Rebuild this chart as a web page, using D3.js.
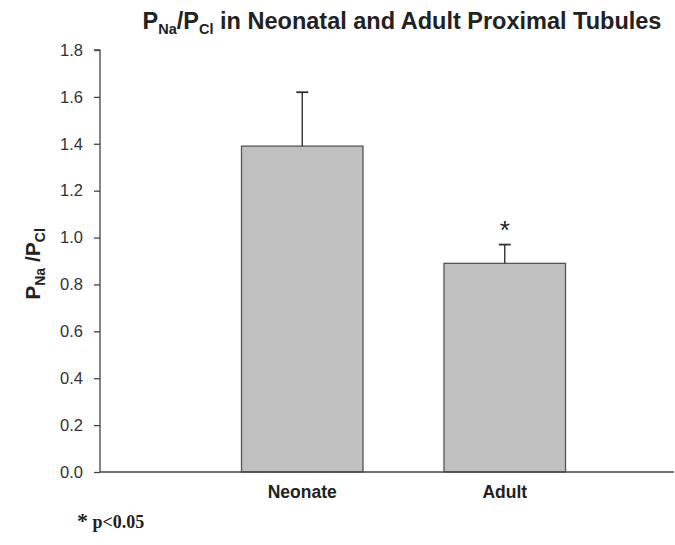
<!DOCTYPE html>
<html><head><meta charset="utf-8">
<script src="https://cdn.jsdelivr.net/npm/d3@7"></script>
<style>body{margin:0;background:#fff}svg{display:block}</style>
</head><body>
<svg id="c" width="675" height="545"></svg>
<script>
const categories = ["Neonate", "Adult"];
const means = [1.39, 0.89];
const errors = [0.23, 0.08];
const significant = [false, true];
const yTicks = [0, 0.2, 0.4, 0.6, 0.8, 1.0, 1.2, 1.4, 1.6, 1.8];

const svg = d3.select("#c");
const sans = "'Liberation Sans', Arial, sans-serif";
const y = d3.scaleLinear().domain([0, 1.8]).range([472, 50]);
const x = d3.scaleBand().domain(categories).range([201, 606]).paddingInner(0.4).paddingOuter(0.2);
const axisX0 = 100, axisX1 = 674;

// bars
svg.selectAll("rect.bar").data(categories).join("rect")
  .attr("x", d => x(d)).attr("width", x.bandwidth())
  .attr("y", (d, i) => y(means[i])).attr("height", (d, i) => y(0) - y(means[i]))
  .attr("fill", "#c0c0c0").attr("stroke", "#555").attr("stroke-width", 1.3);

// error bars
const eb = svg.selectAll("g.eb").data(categories).join("g");
eb.append("line")
  .attr("x1", d => x(d) + x.bandwidth() / 2).attr("x2", d => x(d) + x.bandwidth() / 2)
  .attr("y1", (d, i) => y(means[i])).attr("y2", (d, i) => y(means[i] + errors[i]))
  .attr("stroke", "#333").attr("stroke-width", 1.4);
eb.append("line")
  .attr("x1", d => x(d) + x.bandwidth() / 2 - 6).attr("x2", d => x(d) + x.bandwidth() / 2 + 6)
  .attr("y1", (d, i) => y(means[i] + errors[i])).attr("y2", (d, i) => y(means[i] + errors[i]))
  .attr("stroke", "#333").attr("stroke-width", 1.8);

// significance
svg.selectAll("text.sig").data(categories.filter((d, i) => significant[i])).join("text")
  .attr("x", d => x(d) + x.bandwidth() / 2)
  .attr("y", d => { const i = categories.indexOf(d); return y(means[i] + errors[i]) - 6; })
  .attr("text-anchor", "middle").attr("font-family", sans).attr("font-size", 26)
  .attr("fill", "#222").text("*");

// y axis
const yAxis = d3.axisLeft(y).tickValues(yTicks).tickFormat(d3.format(".1f")).tickSize(6).tickPadding(11);
const gy = svg.append("g").attr("transform", `translate(${axisX0},0)`).call(yAxis);
gy.select(".domain").attr("stroke", "#444").attr("stroke-width", 1.3).attr("d", `M-6,${y(1.8)}H0V${y(0)}`);
gy.selectAll(".tick line").attr("stroke", "#444").attr("stroke-width", 1.3);
gy.selectAll(".tick text").attr("font-family", sans).attr("font-size", 16.5).attr("fill", "#333");

// x axis
const gx = svg.append("g").attr("transform", `translate(0,${y(0)})`);
gx.append("line").attr("x1", axisX0).attr("x2", axisX1).attr("stroke", "#444").attr("stroke-width", 1.3);
gx.selectAll("text").data(categories).join("text")
  .attr("x", d => x(d) + x.bandwidth() / 2).attr("y", 26)
  .attr("text-anchor", "middle").attr("font-family", sans).attr("font-weight", "bold")
  .attr("font-size", 17.5).attr("fill", "#222").text(d => d);

// title
const title = svg.append("text").attr("x", 402).attr("y", 29).attr("text-anchor", "middle")
  .attr("font-family", sans).attr("font-weight", "bold").attr("font-size", 23.5).attr("fill", "#222");
title.append("tspan").text("P");
title.append("tspan").attr("font-size", 14.5).attr("dy", 5).text("Na");
title.append("tspan").attr("dy", -5).text("/P");
title.append("tspan").attr("font-size", 14.5).attr("dy", 5).text("Cl");
title.append("tspan").attr("dy", -5).text(" in Neonatal and Adult Proximal Tubules");

// y label
const yl = svg.append("text").attr("transform", "translate(40,264) rotate(-90)").attr("text-anchor", "middle")
  .attr("font-family", sans).attr("font-weight", "bold").attr("font-size", 21).attr("fill", "#222");
yl.append("tspan").text("P");
yl.append("tspan").attr("font-size", 14).attr("dy", 5).text("Na");
yl.append("tspan").attr("dy", -5).text(" /P");
yl.append("tspan").attr("font-size", 14).attr("dy", 5).text("Cl");

// footnote
const fn = svg.append("text").attr("x", 77).attr("y", 528)
  .attr("font-family", "'Liberation Serif', 'Times New Roman', serif").attr("font-weight", "bold")
  .attr("font-size", 18).attr("fill", "#222");
fn.append("tspan").attr("font-size", 22).text("*");
fn.append("tspan").text(" p<0.05");
</script>
</body></html>
